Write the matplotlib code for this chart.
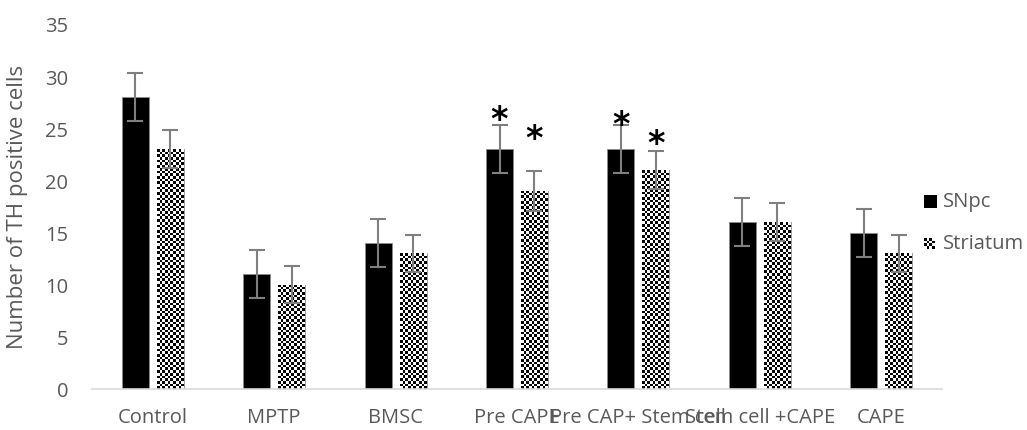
import numpy as np
import matplotlib
matplotlib.use("Agg")
import matplotlib.pyplot as plt
from matplotlib.patches import Rectangle
from matplotlib.textpath import TextPath
from matplotlib.font_manager import FontProperties

categories = ["Control", "MPTP", "BMSC", "Pre CAPE", "Pre CAP+ Stem cell", "Stem cell +CAPE", "CAPE"]
snpc = [28, 11, 14, 23, 23, 16, 15]
striatum = [23, 10, 13, 19, 21, 16, 13]
snpc_err = [2.3, 2.3, 2.3, 2.3, 2.3, 2.3, 2.3]
striatum_err = [1.8, 1.8, 1.8, 1.9, 1.8, 1.8, 1.8]
# significance marks: (category index, height of the mark's centre)
snpc_stars = [(3, 26.6), (4, 26.1)]
striatum_stars = [(3, 24.7), (4, 24.3)]
series_names = ["SNpc", "Striatum"]
ylabel = "Number of TH positive cells"
yticks = [0, 5, 10, 15, 20, 25, 30, 35]

W, H = 1027, 431
DPI = 100
TXT = "#595959"
ERR = "#7f7f7f"
FONT = "Open Sans"
FS = 14.5

plt.rcParams['font.family'] = [FONT, 'DejaVu Sans']

fig = plt.figure(figsize=(W / DPI, H / DPI), dpi=DPI)
ax = fig.add_axes([92 / W, (H - 390) / H, (942 - 92) / W, (390 - 25) / H])

x = np.arange(len(categories))
bw = 0.222
off = 0.144
ax.set_xlim(-0.5, len(categories) - 0.5)
ax.set_ylim(0, 35)

b1 = ax.bar(x - off, snpc, bw, color="black", edgecolor="#8c8c8c", linewidth=0.6, zorder=2)
b2 = ax.bar(x + off, striatum, bw, color="white", edgecolor="#8c8c8c", linewidth=0.6, zorder=2)

# checkerboard fill for striatum bars
fig.canvas.draw()
cell_px = 2.7
for rect in b2:
    x0, y0 = rect.get_x(), rect.get_y()
    w, h = rect.get_width(), rect.get_height()
    p0 = ax.transData.transform((x0, y0))
    p1 = ax.transData.transform((x0 + w, y0 + h))
    nc = max(1, int(round((p1[0] - p0[0]) / cell_px)))
    nr = max(1, int(round((p1[1] - p0[1]) / cell_px)))
    ii, jj = np.indices((nr, nc))
    board = ((ii + jj) % 2).astype(float)
    im = ax.imshow(board, cmap="gray", vmin=0, vmax=1, interpolation="nearest",
                   extent=(x0, x0 + w, y0, y0 + h), aspect="auto", zorder=2.5)
    im.set_clip_path(rect)

ax.errorbar(x - off, snpc, yerr=snpc_err, fmt="none", ecolor=ERR, elinewidth=1.5,
            capsize=6, capthick=1.5, zorder=4)
ax.errorbar(x + off, striatum, yerr=striatum_err, fmt="none", ecolor=ERR, elinewidth=1.5,
            capsize=6, capthick=1.5, zorder=4)

# significance asterisks, centred on the glyph itself
STAR_FS = 24
star_prop = FontProperties(family="DejaVu Sans", weight="bold", size=STAR_FS)
ext = TextPath((0, 0), "*", size=STAR_FS, prop=star_prop).get_extents()
cy = (ext.y0 + ext.y1) / 2.0
for idx, yv in snpc_stars:
    ax.annotate("*", xy=(x[idx] - off, yv), xytext=(0, -cy), textcoords="offset points",
                ha="center", va="baseline", fontproperties=star_prop, color="black", zorder=5)
for idx, yv in striatum_stars:
    ax.annotate("*", xy=(x[idx] + off, yv), xytext=(0, -cy), textcoords="offset points",
                ha="center", va="baseline", fontproperties=star_prop, color="black", zorder=5)

for s in ["top", "right", "left"]:
    ax.spines[s].set_visible(False)
ax.spines["bottom"].set_color("#d9d9d9")
ax.spines["bottom"].set_linewidth(1.2)

ax.set_yticks(yticks)
ax.set_xticks(x)
ax.set_xticklabels(categories)
ax.tick_params(axis="both", length=0, labelsize=FS, colors=TXT)
ax.tick_params(axis="y", pad=17)
ax.tick_params(axis="x", pad=13)

fig.text(18 / W, (H - 207) / H, ylabel, rotation=90, ha="center", va="center",
         fontsize=16, color=TXT)

# legend
def legend_entry(y_center, size, kind, label):
    lax = fig.add_axes([924 / W, (H - y_center - size / 2) / H, size / W, size / H])
    lax.set_axis_off()
    if kind == "solid":
        lax.add_patch(Rectangle((0, 0), 1, 1, color="black"))
        lax.set_xlim(0, 1); lax.set_ylim(0, 1)
    else:
        n = 4
        ii, jj = np.indices((n, n))
        lax.imshow(((ii + jj) % 2).astype(float), cmap="gray", vmin=0, vmax=1,
                   interpolation="nearest", aspect="auto")
    fig.text(943 / W, (H - y_center) / H, label, ha="left", va="center",
             fontsize=FS, color=TXT)

legend_entry(202, 13, "solid", series_names[0])
legend_entry(244, 11, "check", series_names[1])

fig.savefig("out.png", dpi=DPI)
